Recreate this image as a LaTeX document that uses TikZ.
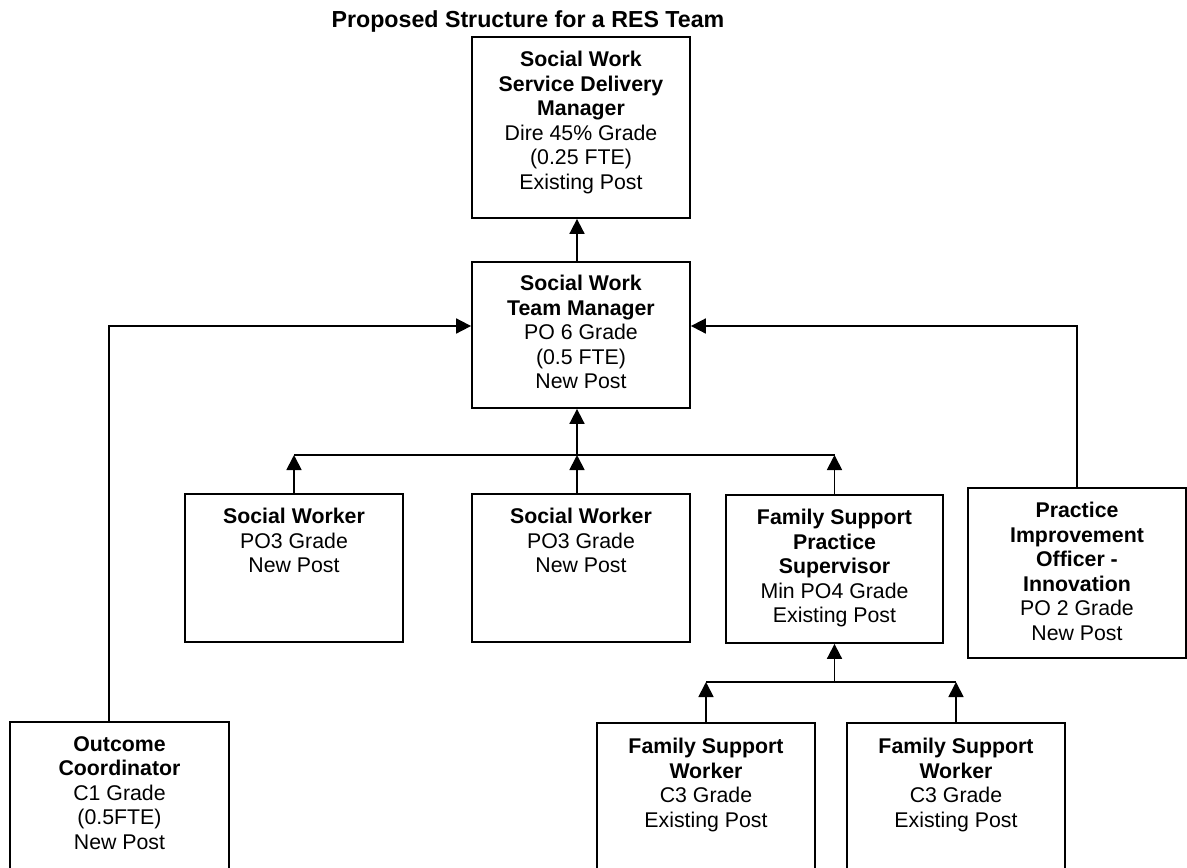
\documentclass[tikz,border=0pt]{standalone}
\usepackage{fontspec}
\setmainfont{Liberation Sans}
\usetikzlibrary{arrows.meta}
\begin{document}
\begin{tikzpicture}[x=1pt,y=-1pt,
  box/.style={draw, line width=1.8pt, inner sep=0pt},
  txt/.style={align=center, inner sep=0pt, anchor=north, font=\fontsize{21.3}{24.5}\selectfont},
  link/.style={line width=1.8pt},
  tip/.style={line width=1.8pt, -{Triangle[length=15pt,width=15pt]}},
]
\clip (0,0) rectangle (1187,868);
\fill[white] (0,0) rectangle (1187,868);

% title
\node[font=\bfseries\fontsize{23.2}{26.7}\selectfont, anchor=base, inner sep=0pt] (title) at (528,27) {Proposed Structure for a RES Team};

% boxes
\node[box, minimum width=218pt, minimum height=181pt] (sdm) at (581,127.5) {};
\node[box, minimum width=218pt, minimum height=146pt] (tm) at (581,335) {};
\node[box, minimum width=218pt, minimum height=148pt] (sw1) at (294,568) {};
\node[box, minimum width=218pt, minimum height=148pt] (sw2) at (581,568) {};
\node[box, minimum width=217pt, minimum height=148pt] (fsps) at (834.5,569) {};
\node[box, minimum width=218pt, minimum height=170pt] (pio) at (1077,573) {};
\node[box, minimum width=219pt, minimum height=180pt] (oc) at (119.5,812) {};
\node[box, minimum width=218pt, minimum height=180pt] (fsw1) at (706,813) {};
\node[box, minimum width=218pt, minimum height=180pt] (fsw2) at (956,813) {};

% box texts
\node[txt] (sdm-t) at ([yshift=-15pt]sdm.north) {\textbf{Social Work}\\\textbf{Service Delivery}\\\textbf{Manager}\\Dire 45\% Grade\\(0.25 FTE)\\Existing Post};
\node[txt] (tm-t) at ([yshift=-14pt]tm.north) {\textbf{Social Work}\\\textbf{Team Manager}\\PO 6 Grade\\(0.5 FTE)\\New Post};
\node[txt] (sw1-t) at ([yshift=-15pt]sw1.north) {\textbf{Social Worker}\\PO3 Grade\\New Post};
\node[txt] (sw2-t) at ([yshift=-15pt]sw2.north) {\textbf{Social Worker}\\PO3 Grade\\New Post};
\node[txt] (fsps-t) at ([yshift=-15pt]fsps.north) {\textbf{Family Support}\\\textbf{Practice}\\\textbf{Supervisor}\\Min PO4 Grade\\Existing Post};
\node[txt] (pio-t) at ([yshift=-15pt]pio.north) {\textbf{Practice}\\\textbf{Improvement}\\\textbf{Officer -}\\\textbf{Innovation}\\PO 2 Grade\\New Post};
\node[txt] (oc-t) at ([yshift=-15pt]oc.north) {\textbf{Outcome}\\\textbf{Coordinator}\\C1 Grade\\(0.5FTE)\\New Post};
\node[txt] (fsw1-t) at ([yshift=-16pt]fsw1.north) {\textbf{Family Support}\\\textbf{Worker}\\C3 Grade\\Existing Post};
\node[txt] (fsw2-t) at ([yshift=-16pt]fsw2.north) {\textbf{Family Support}\\\textbf{Worker}\\C3 Grade\\Existing Post};

% reporting lines
\coordinate (spine) at (577,0);
\coordinate (bus1) at (577,455);
\coordinate (bus2) at (834,682);

\draw[tip] (spine |- tm.north) -- (spine |- sdm.south);

\draw[link] (sw1.north |- bus1) -- (fsps.north |- bus1);
\draw[tip] (sw1.north) -- (sw1.north |- bus1);
\draw[tip] (spine |- sw2.north) -- (bus1);
\draw[tip] (fsps.north) -- (fsps.north |- bus1);
\draw[tip] (bus1) -- (spine |- tm.south);

\draw[tip] ([xshift=-10.5pt]oc.north) |- ([yshift=9pt]tm.west);
\draw[tip] (pio.north) |- ([yshift=9pt]tm.east);

\draw[link] (fsw1.north |- bus2) -- (fsw2.north |- bus2);
\draw[tip] (fsw1.north) -- (fsw1.north |- bus2);
\draw[tip] (fsw2.north) -- (fsw2.north |- bus2);
\draw[tip] (fsps.south |- bus2) -- (fsps.south);
\end{tikzpicture}
\end{document}
